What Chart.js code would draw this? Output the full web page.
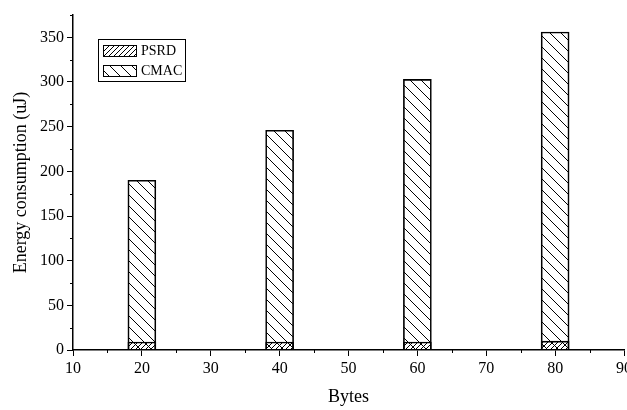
<!DOCTYPE html>
<html>
<head>
<meta charset="utf-8">
<script src="https://cdn.jsdelivr.net/npm/chart.js@4"></script>
<style>
  html, body { margin: 0; padding: 0; background: #fff; overflow: hidden; }
  #wrap { width: 627px; height: 410px; }
</style>
</head>
<body>
<div id="wrap"><canvas id="chart" width="627" height="410"></canvas></div>
<script>
// Data
const bytes = [20, 40, 60, 80];
const psrdEnergy = [9, 9, 9, 10];
const cmacEnergy = [190, 246, 303, 356];
const yTicks = [0, 50, 100, 150, 200, 250, 300, 350];
const xTicks = [10, 20, 30, 40, 50, 60, 70, 80, 90];

const FONT = '"Liberation Serif", "Times New Roman", serif';

/**
 * Build a hatch pattern of 45 degree lines.
 * dir 1 => "/" lines, dir -1 => "\" lines
 */
function makeHatch(size, dir) {
    const c = document.createElement('canvas');
    c.width = size;
    c.height = size;
    const g = c.getContext('2d');
    g.strokeStyle = '#000';
    g.lineWidth = 1;
    g.beginPath();
    if (dir > 0) {
        g.moveTo(-1, size + 1); g.lineTo(size + 1, -1);
        g.moveTo(-1, 1); g.lineTo(1, -1);
        g.moveTo(size - 1, size + 1); g.lineTo(size + 1, size - 1);
    } else {
        g.moveTo(-1, -1); g.lineTo(size + 1, size + 1);
        g.moveTo(size - 1, -1); g.lineTo(size + 1, 1);
        g.moveTo(-1, size - 1); g.lineTo(1, size + 1);
    }
    g.stroke();
    return g.createPattern(c, 'repeat');
}

const ctx = document.getElementById('chart').getContext('2d');
const psrdPattern = makeHatch(5, 1);
const cmacPattern = makeHatch(11, -1);

// Minor ticks halfway between the majors
const minorTicks = {
    id: 'minorTicks',
    afterDraw(chart) {
        const c = chart.ctx;
        const xs = chart.scales.x, ys = chart.scales.y;
        c.save();
        c.strokeStyle = '#000';
        c.lineWidth = 1;
        c.beginPath();
        for (let v = 15; v < 90; v += 10) {
            const px = Math.round(xs.getPixelForValue(v)) + 0.5;
            c.moveTo(px, xs.top);
            c.lineTo(px, xs.top + 3);
        }
        for (let v = 25; v <= 375; v += 50) {
            const py = Math.round(ys.getPixelForValue(v)) + 0.5;
            c.moveTo(ys.right, py);
            c.lineTo(ys.right - 3, py);
        }
        c.stroke();
        c.restore();
    }
};

// Boxed legend inside the plot, upper left
const boxLegend = {
    id: 'boxLegend',
    afterDraw(chart) {
        const c = chart.ctx;
        c.save();
        c.lineWidth = 1;
        c.strokeStyle = '#000';
        c.fillStyle = '#fff';
        c.fillRect(98.5, 39.5, 87, 42);
        c.strokeRect(98.5, 39.5, 87, 42);
        c.font = '14px ' + FONT;
        c.textBaseline = 'middle';
        chart.data.datasets.forEach((ds, i) => {
            const y = 45.5 + i * 20;
            c.fillStyle = ds.backgroundColor;
            c.fillRect(103.5, y, 33, 11);
            c.strokeRect(103.5, y, 33, 11);
            c.fillStyle = '#000';
            c.fillText(ds.label, 141, y + 6);
        });
        c.restore();
    }
};

new Chart(ctx, {
    type: 'bar',
    data: {
        datasets: [
            {
                label: 'PSRD',
                data: bytes.map((b, i) => ({ x: b, y: psrdEnergy[i] })),
                backgroundColor: psrdPattern,
                borderColor: '#000',
                borderWidth: 1,
                barThickness: 28
            },
            {
                label: 'CMAC',
                data: bytes.map((b, i) => ({ x: b, y: cmacEnergy[i] })),
                backgroundColor: cmacPattern,
                borderColor: '#000',
                borderWidth: 1,
                barThickness: 28
            }
        ]
    },
    options: {
        responsive: false,
        animation: false,
        layout: { padding: { top: 15, right: 3, left: 0, bottom: 0 } },
        plugins: {
            legend: { display: false },
            tooltip: { enabled: false }
        },
        scales: {
            x: {
                type: 'linear',
                stacked: true,
                offset: false,
                min: 10,
                max: 90,
                afterBuildTicks: s => { s.ticks = xTicks.map(v => ({ value: v })); },
                afterFit: s => { s.height = 60; s.paddingRight = 0; s.paddingLeft = 0; },
                grid: { offset: false, drawOnChartArea: false, tickLength: 6, color: '#000', tickWidth: 1 },
                border: { display: true, color: '#000', width: 1.5 },
                ticks: { color: '#000', font: { family: FONT, size: 16 }, padding: 3, maxRotation: 0 },
                title: { display: true, text: 'Bytes', color: '#000', font: { family: FONT, size: 18 }, padding: { top: 4, bottom: 2 } }
            },
            y: {
                stacked: false,
                min: 0,
                max: 375,
                afterBuildTicks: s => { s.ticks = yTicks.map(v => ({ value: v })); },
                afterFit: s => { s.width = 73; },
                grid: { drawOnChartArea: false, tickLength: 6, color: '#000', tickWidth: 1 },
                border: { display: true, color: '#000', width: 1.5 },
                ticks: { color: '#000', font: { family: FONT, size: 16 }, padding: 3 },
                title: { display: true, text: 'Energy consumption (uJ)', color: '#000', font: { family: FONT, size: 18 }, padding: { top: 10, bottom: 6 } }
            }
        }
    },
    plugins: [minorTicks, boxLegend]
});
</script>
</body>
</html>
